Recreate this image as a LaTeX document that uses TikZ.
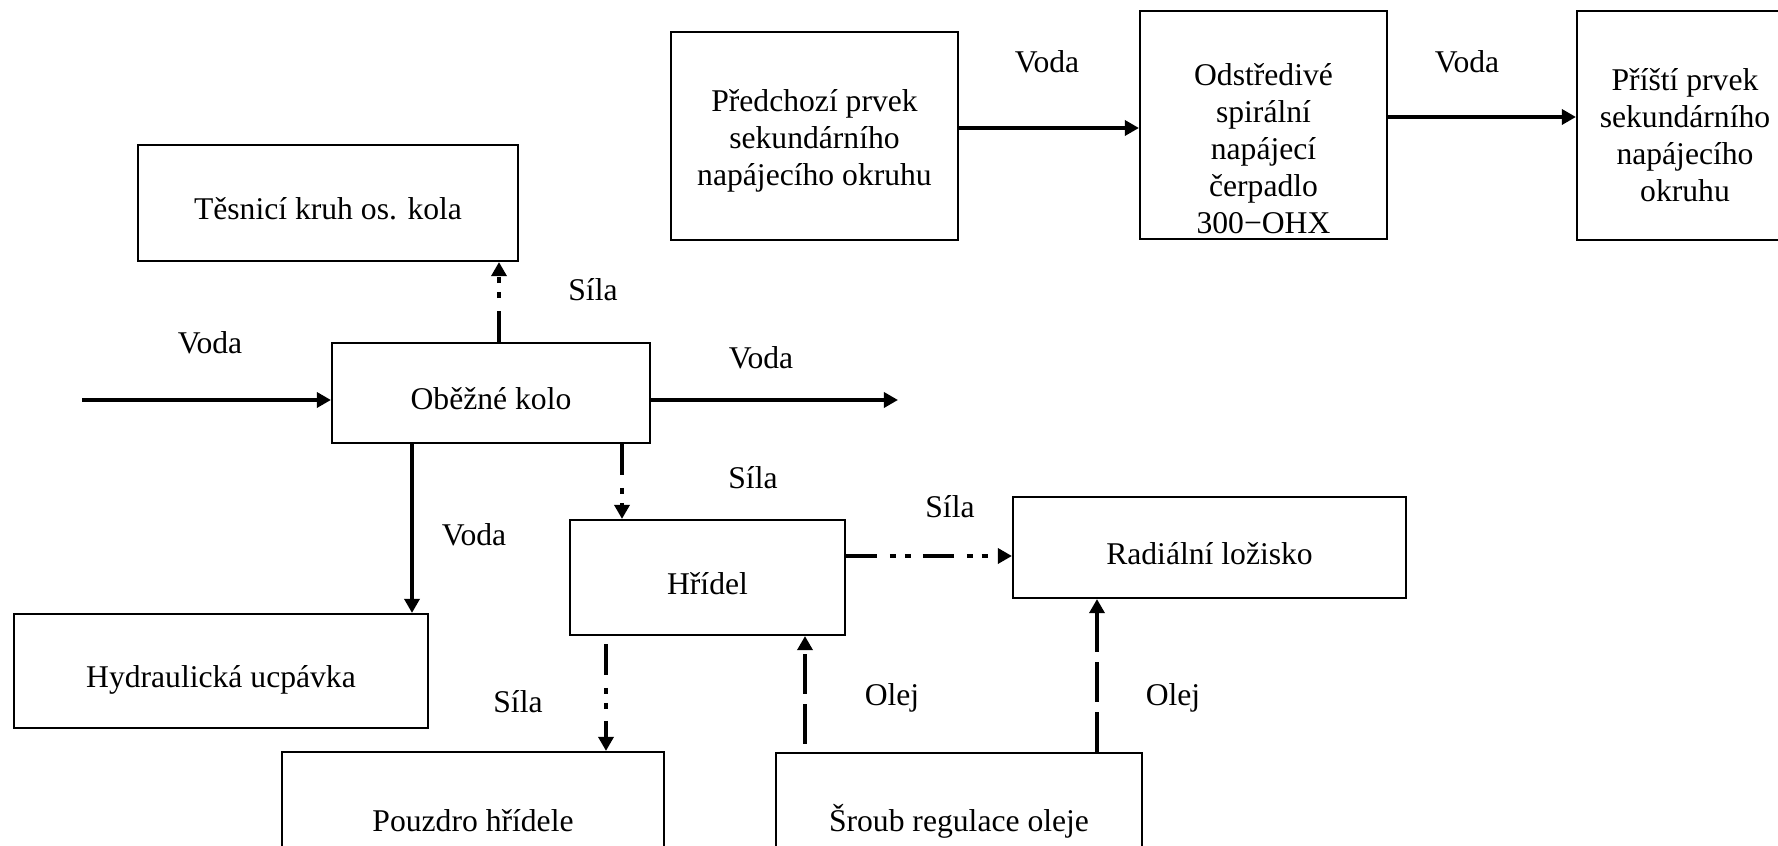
\documentclass[tikz,border=0pt]{standalone}
\usepackage{fontspec}
\setmainfont{Liberation Serif}
\usetikzlibrary{arrows.meta,positioning}

\tikzset{
  box/.style={draw,line width=1.2pt,align=center,inner sep=2pt},
  onebox/.style={box,text height=23pt,text depth=4pt},
  flow/.style={line width=2.6pt,-{Triangle[length=8pt,width=8.5pt]}},
  force/.style={flow,dash pattern=on 17.6pt off 7.4pt on 3.4pt off 5.1pt on 3.4pt off 6.8pt},
  oil/.style={flow,dash pattern=on 22.8pt off 5.7pt},
}

\begin{document}
\begin{tikzpicture}[font=\fontsize{18pt}{21pt}\selectfont]
  \useasboundingbox (0,0) rectangle (35.56,16.92);
  % top row
  \node[box,minimum width=5.74cm,minimum height=4.16cm,
        label={[align=center,yshift=-0.1cm]center:Předchozí prvek\\sekundárního\\napájecího okruhu}] (prev) at (16.29,14.20) {};
  \node[box,minimum width=4.94cm,minimum height=4.56cm,
        label={[align=center,yshift=-0.47cm]center:Odstředivé\\spirální\\napájecí\\čerpadlo\\300−OHX}] (pump) at (25.27,14.42) {};
  \node[box,minimum width=4.32cm,minimum height=4.58cm,
        label={[align=center,yshift=-0.2cm]center:Příští prvek\\sekundárního\\napájecího\\okruhu}] (next) at (33.70,14.41) {};
  % pump parts
  \node[onebox,minimum width=7.6cm,minimum height=2.32cm] (ring) at (6.56,12.86) {Těsnicí kruh os. kola};
  \node[onebox,minimum width=6.36cm,minimum height=2.0cm] (wheel) at (9.82,9.06) {Oběžné kolo};
  \node[onebox,minimum width=5.5cm,minimum height=2.3cm] (shaft) at (14.15,5.37) {Hřídel};
  \node[onebox,minimum width=7.86cm,minimum height=2.02cm] (bearing) at (24.19,5.97) {Radiální ložisko};
  \node[onebox,minimum width=8.28cm,minimum height=2.28cm] (seal) at (4.42,3.50) {Hydraulická ucpávka};
  \node[onebox,minimum width=7.64cm,minimum height=2.52cm] (sleeve) at (9.46,0.62) {Pouzdro hřídele};
  \node[onebox,minimum width=7.32cm,minimum height=2.48cm] (screw) at (19.18,0.62) {Šroub regulace oleje};

  % flows
  \draw[flow] ([yshift=0.16cm]prev.east) coordinate (a1) -- (a1 -| pump.west);
  \draw[flow] ([yshift=0.16cm]pump.east) coordinate (a2) -- (a2 -| next.west);
  \coordinate (in) at (1.64,8.92);
  \coordinate (out) at (17.96,8.92);
  \draw[flow] (in) -- (in -| wheel.west);
  \draw[flow] (out -| wheel.east) -- (out);
  \draw[force] ([xshift=0.16cm]wheel.north) coordinate (a3) -- (a3 |- ring.south);
  \draw[force] ([xshift=2.62cm]wheel.south) coordinate (a4) -- (a4 |- shaft.north);
  \draw[flow] ([xshift=-1.58cm]wheel.south) coordinate (a5) -- (a5 |- seal.north);
  \draw[force] ([yshift=0.43cm]shaft.east) coordinate (a6) -- (a6 -| bearing.west);
  \draw[force,shorten <=0.16cm] ([xshift=-2.03cm]shaft.south) coordinate (a7) -- (a7 |- sleeve.north);
  \draw[oil,shorten <=0.16cm] ([xshift=-3.08cm]screw.north) coordinate (a8) -- (a8 |- shaft.south);
  \draw[oil] ([xshift=2.76cm]screw.north) coordinate (a9) -- (a9 |- bearing.south);

  % labels
  \node (v1) at (20.94,15.68) {Voda};
  \node (v2) at (29.34,15.68) {Voda};
  \node (v3) at (4.20,10.06) {Voda};
  \node (v4) at (15.22,9.76) {Voda};
  \node (v5) at (9.48,6.22) {Voda};
  \node (s1) at (11.86,11.12) {Síla};
  \node (s2) at (15.06,7.36) {Síla};
  \node (s3) at (19.00,6.78) {Síla};
  \node (s4) at (10.36,2.88) {Síla};
  \node (o1) at (17.84,2.96) {Olej};
  \node (o2) at (23.46,2.96) {Olej};
\end{tikzpicture}
\end{document}
